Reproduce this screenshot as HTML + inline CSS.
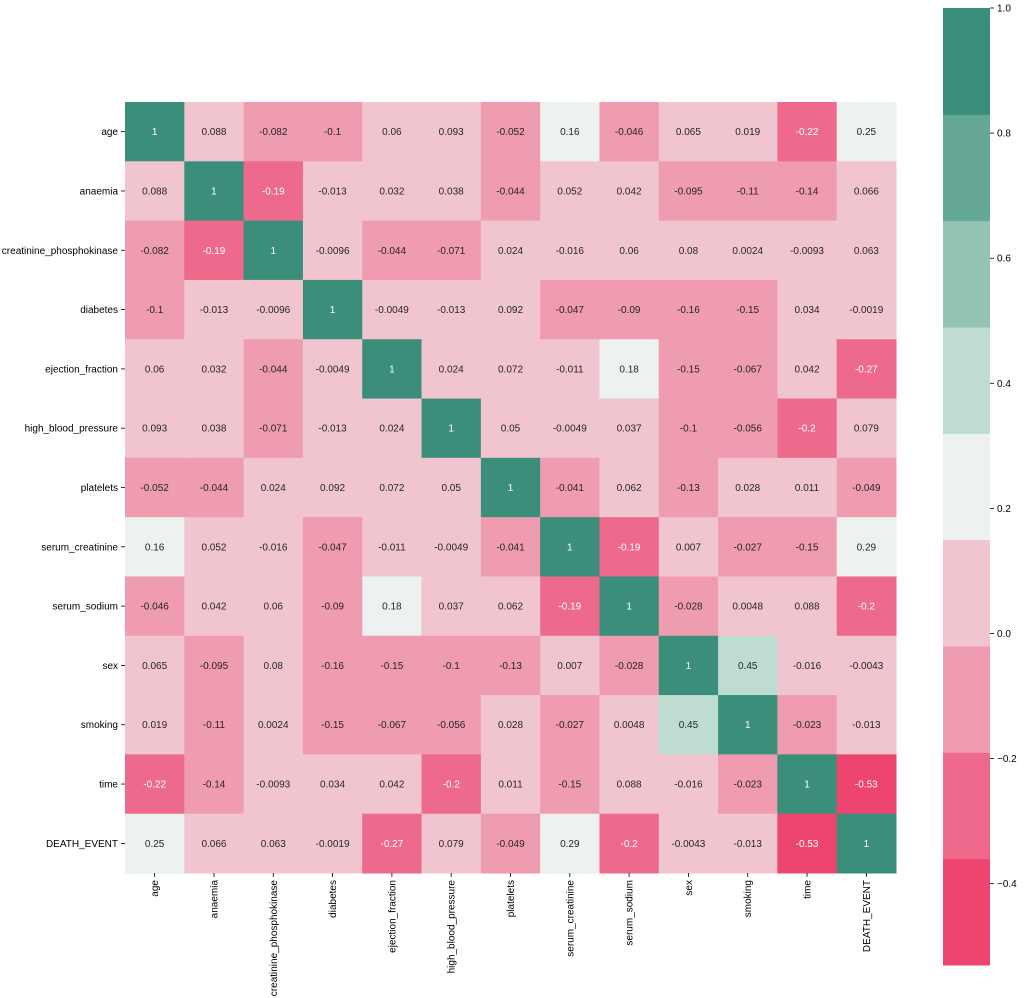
<!DOCTYPE html>
<html><head><meta charset="utf-8"><style>
body{margin:0;background:#fff;}
svg{display:block;font-family:"Liberation Sans","DejaVu Sans",sans-serif;}
</style></head><body>
<svg id="s" width="1024" height="998" xmlns="http://www.w3.org/2000/svg"></svg>
<script>
const names=["age","anaemia","creatinine_phosphokinase","diabetes","ejection_fraction","high_blood_pressure","platelets","serum_creatinine","serum_sodium","sex","smoking","time","DEATH_EVENT"];
const M=[
["1","0.088","-0.082","-0.1","0.06","0.093","-0.052","0.16","-0.046","0.065","0.019","-0.22","0.25"],
["0.088","1","-0.19","-0.013","0.032","0.038","-0.044","0.052","0.042","-0.095","-0.11","-0.14","0.066"],
["-0.082","-0.19","1","-0.0096","-0.044","-0.071","0.024","-0.016","0.06","0.08","0.0024","-0.0093","0.063"],
["-0.1","-0.013","-0.0096","1","-0.0049","-0.013","0.092","-0.047","-0.09","-0.16","-0.15","0.034","-0.0019"],
["0.06","0.032","-0.044","-0.0049","1","0.024","0.072","-0.011","0.18","-0.15","-0.067","0.042","-0.27"],
["0.093","0.038","-0.071","-0.013","0.024","1","0.05","-0.0049","0.037","-0.1","-0.056","-0.2","0.079"],
["-0.052","-0.044","0.024","0.092","0.072","0.05","1","-0.041","0.062","-0.13","0.028","0.011","-0.049"],
["0.16","0.052","-0.016","-0.047","-0.011","-0.0049","-0.041","1","-0.19","0.007","-0.027","-0.15","0.29"],
["-0.046","0.042","0.06","-0.09","0.18","0.037","0.062","-0.19","1","-0.028","0.0048","0.088","-0.2"],
["0.065","-0.095","0.08","-0.16","-0.15","-0.1","-0.13","0.007","-0.028","1","0.45","-0.016","-0.0043"],
["0.019","-0.11","0.0024","-0.15","-0.067","-0.056","0.028","-0.027","0.0048","0.45","1","-0.023","-0.013"],
["-0.22","-0.14","-0.0093","0.034","0.042","-0.2","0.011","-0.15","0.088","-0.016","-0.023","1","-0.53"],
["0.25","0.066","0.063","-0.0019","-0.27","0.079","-0.049","0.29","-0.2","-0.0043","-0.013","-0.53","1"]];
const cols=["#ee4470","#ed6a8c","#ef9bb0","#f1c5d0","#edf1ef","#bfdcd3","#94c4b5","#66a897","#3b8f7a"];
function idx(v){if(v<-0.36)return 0;if(v<=-0.185)return 1;if(v<-0.02)return 2;if(v<0.15)return 3;if(v<0.32)return 4;if(v<0.49)return 5;if(v<0.66)return 6;if(v<0.83)return 7;return 8;}
const x0=125,y0=102,cs=771/13;let h="";
for(let i=0;i<13;i++)for(let j=0;j<13;j++){
 const v=parseFloat(M[i][j]);const x=x0+j*cs,y=y0+i*cs;const k=idx(v);
 h+=`<rect x="${x}" y="${y}" width="${cs+0.5}" height="${cs+0.5}" fill="${cols[k]}"/>`;
 const t=(k<=1||k>=7)?"#fff":"#262626";
 h+=`<text x="${x+cs/2}" y="${y+cs/2+3.5}" font-size="10" text-anchor="middle" fill="${t}">${M[i][j]}</text>`;
}
for(let i=0;i<13;i++){
 const c=y0+i*cs+cs/2;
 h+=`<line x1="${x0-4}" y1="${c}" x2="${x0}" y2="${c}" stroke="#000" stroke-width="0.8"/>`;
 h+=`<text x="${x0-7}" y="${c+3.5}" font-size="10" text-anchor="end" fill="#000">${names[i]}</text>`;
 const cx=x0+i*cs+cs/2,by=y0+771;
 h+=`<line x1="${cx}" y1="${by}" x2="${cx}" y2="${by+4}" stroke="#000" stroke-width="0.8"/>`;
 h+=`<text transform="translate(${cx+3.5},${by+7}) rotate(-90)" font-size="10" text-anchor="end" fill="#000">${names[i]}</text>`;
}
const bx=943,bw=47,bt=8,bb=965,bh=(bb-bt)/9;
for(let k=0;k<9;k++)h+=`<rect x="${bx}" y="${bb-(k+1)*bh}" width="${bw}" height="${bh+0.5}" fill="${cols[k]}"/>`;
const ticks=[1.0,0.8,0.6,0.4,0.2,0.0,-0.2,-0.4];
for(const t of ticks){const y=bt+(1-t)/1.53*(bb-bt);
 h+=`<line x1="${bx+bw}" y1="${y}" x2="${bx+bw+4}" y2="${y}" stroke="#000" stroke-width="0.8"/>`;
 h+=`<text x="${bx+bw+7}" y="${y+3.5}" font-size="10" fill="#000">${t.toFixed(1).replace("-","\u2212")}</text>`;}
document.getElementById("s").innerHTML=h;
</script>
</body></html>
